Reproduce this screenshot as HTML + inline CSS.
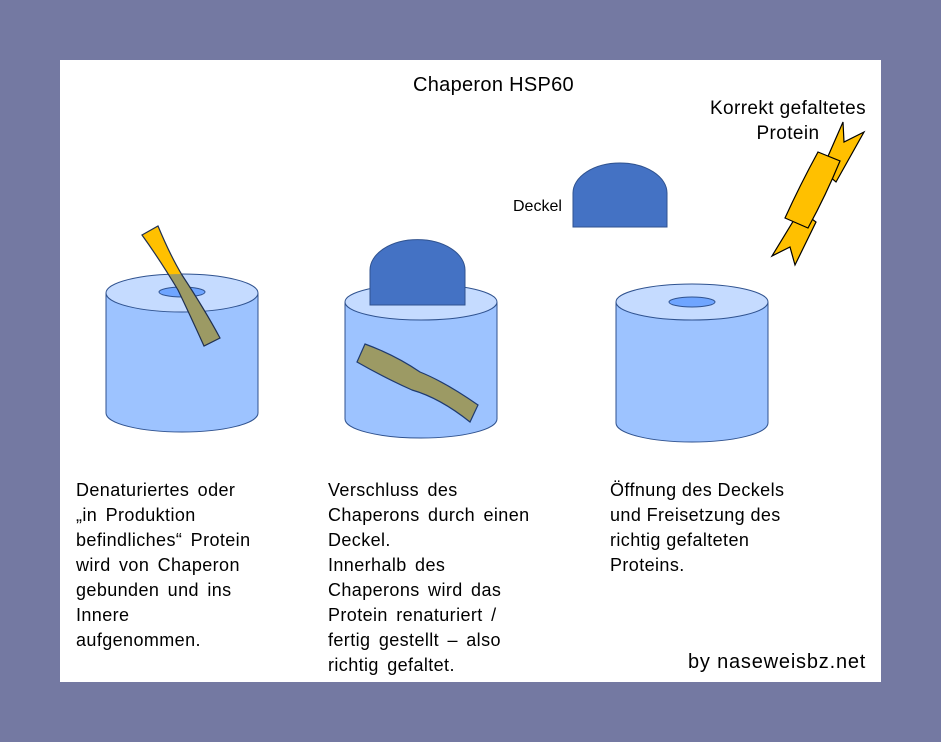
<!DOCTYPE html>
<html><head><meta charset="utf-8"><style>
body{margin:0;width:941px;height:742px;background:#7479a2;position:relative;font-family:"Liberation Sans",sans-serif;overflow:hidden}
#p{position:absolute;left:60px;top:60px;width:821px;height:622px;background:#fff}
.t{position:absolute;font-size:18px;line-height:25px;color:#000;white-space:nowrap;letter-spacing:0.4px}
.w{word-spacing:3px}
svg{position:absolute;left:0;top:0}
</style></head><body>
<div id="p"></div>
<svg width="941" height="742">
<defs>
<clipPath id="c1"><path d="M106 293 V413 A76 19 0 0 0 258 413 V293 A76 19 0 0 0 106 293 Z"/></clipPath>
</defs>
<g stroke="#2f528f" stroke-width="1">
<path d="M106 293 V413 A76 19 0 0 0 258 413 V293" fill="#9dc3ff"/>
<ellipse cx="182" cy="293" rx="76" ry="19" fill="#c5dbff"/>
<ellipse cx="182" cy="292" rx="23" ry="5" fill="#6fa5ff"/>
<path d="M345 302 V419 A76 19 0 0 0 497 419 V302" fill="#9dc3ff"/>
<ellipse cx="421" cy="302" rx="76" ry="18" fill="#c5dbff"/>
<path d="M616 302 V423 A76 19 0 0 0 768 423 V302" fill="#9dc3ff"/>
<ellipse cx="692" cy="302" rx="76" ry="18" fill="#c5dbff"/>
<ellipse cx="692" cy="302" rx="23" ry="5" fill="#6fa5ff"/>
</g>
<path d="M142 235 L158 226 Q170 255 182 275 Q205 310 220 338 L204 346 Q190 315 178 290 Q160 260 142 235 Z" fill="#ffc000"/>
<g clip-path="url(#c1)"><path d="M142 235 L158 226 Q170 255 182 275 Q205 310 220 338 L204 346 Q190 315 178 290 Q160 260 142 235 Z" fill="#9c9a64"/></g>
<path d="M142 235 L158 226 Q170 255 182 275 Q205 310 220 338 L204 346 Q190 315 178 290 Q160 260 142 235 Z" fill="none" stroke="#1f2f50" stroke-width="1.2"/>
<path d="M365 344 Q395 355 420 372 Q445 382 478 405 L470 422 Q440 398 412 390 Q385 378 357 362 Z" fill="#9c9a64" stroke="#1f3a6f" stroke-width="1.2"/>
<path d="M370 305 V270 A47 30 0 0 1 465 270 V305 Z" fill="#4472c4" stroke="#2f528f"/>
<path d="M573 227 V193 A47 30 0 0 1 667 193 V227 Z" fill="#4472c4" stroke="#2f528f"/>
<g fill="#ffc000" stroke="#000" stroke-width="1.2">
<path d="M843 122 L844 142 L864 132 L836 182 L822 170 Z"/>
<path d="M800 210 L816 222 L795 265 L790 247 L772 256 Z"/>
<path d="M818 152 L840 161 Q826 195 808 228 L785 218 Q800 185 818 152 Z"/>
</g>
</svg>
<div class="t" style="left:413px;top:73px;font-size:20px;letter-spacing:0.3px">Chaperon HSP60</div>
<div class="t" style="left:708px;top:96px;width:160px;text-align:center;font-size:19px">Korrekt gefaltetes<br>Protein</div>
<div class="t" style="left:513px;top:194px;font-size:16px;letter-spacing:0">Deckel</div>
<div class="t w" style="left:76px;top:478px">Denaturiertes oder<br>„in Produktion<br>befindliches“ Protein<br>wird von Chaperon<br>gebunden und ins<br>Innere<br>aufgenommen.</div>
<div class="t w" style="left:328px;top:478px">Verschluss des<br>Chaperons durch einen<br>Deckel.<br>Innerhalb des<br>Chaperons wird das<br>Protein renaturiert /<br>fertig gestellt – also<br>richtig gefaltet.</div>
<div class="t" style="left:610px;top:478px">Öffnung des Deckels<br>und Freisetzung des<br>richtig gefalteten<br>Proteins.</div>
<div class="t" style="left:688px;top:650px;font-size:20px;letter-spacing:0.8px">by naseweisbz.net</div>
</body></html>
